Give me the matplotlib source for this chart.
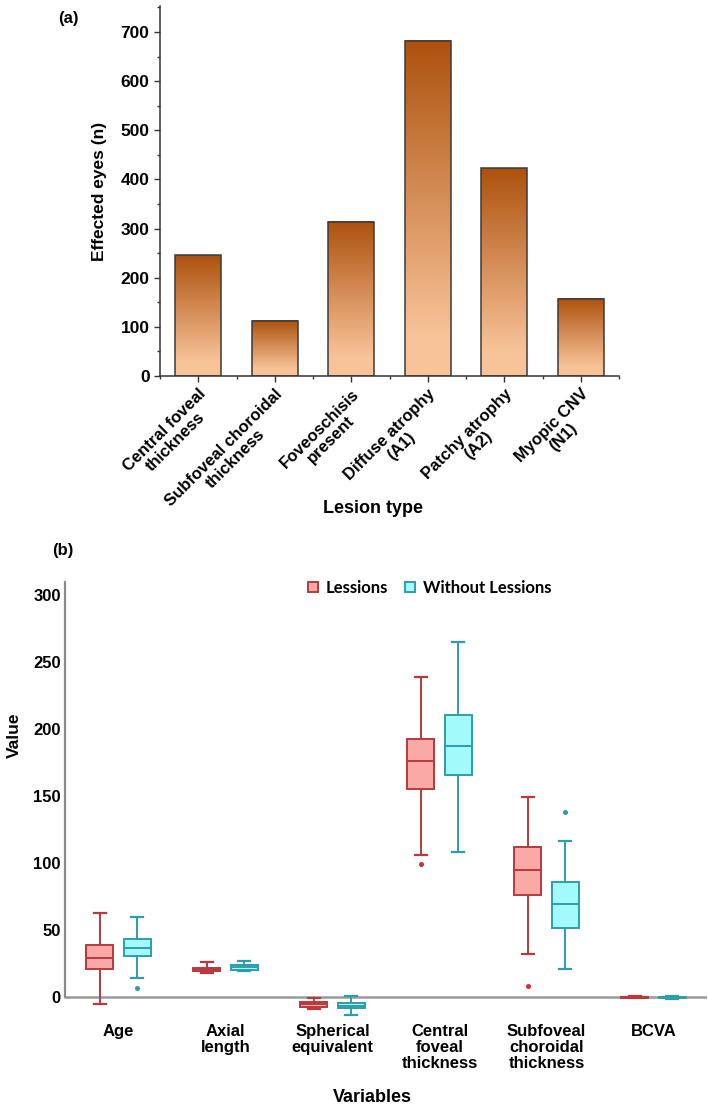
import matplotlib
matplotlib.use("Agg")
import matplotlib.pyplot as plt
import numpy as np
from matplotlib.colors import LinearSegmentedColormap
from matplotlib.lines import Line2D
from matplotlib.ticker import MultipleLocator

plt.rcParams["font.family"] = ["Liberation Sans", "DejaVu Sans"]
plt.rcParams["font.weight"] = "bold"

# ---- panel (a) data ----
lesion_types = [
    "Central foveal\nthickness",
    "Subfoveal choroidal\nthickness",
    "Foveoschisis\npresent",
    "Diffuse atrophy\n(A1)",
    "Patchy atrophy\n(A2)",
    "Myopic CNV\n(N1)",
]
affected_eyes = [246, 112, 314, 682, 423, 157]

# ---- panel (b) data (box statistics) ----
variables = [
    "Age",
    "Axial\nlength",
    "Spherical\nequivalent",
    "Central\nfoveal\nthickness",
    "Subfoveal\nchoroidal\nthickness",
    "BCVA",
]
les_whislo = [-5.2, 17.9, -9.0, 106.0, 32.1, -0.8]
les_q1 = [20.9, 19.4, -7.2, 155.0, 76.1, -0.5]
les_med = [29.1, 20.5, -5.2, 176.1, 94.5, 0.0]
les_q3 = [38.8, 21.6, -3.5, 192.5, 111.7, 0.4]
les_whishi = [62.9, 26.1, -0.8, 238.8, 149.5, 0.8]
les_fliers = [[], [], [], [99.0], [8.0], []]

wo_whislo = [14.4, 19.4, -13.4, 108.4, 20.9, -1.5]
wo_q1 = [30.6, 20.1, -8.4, 165.4, 51.7, -0.6]
wo_med = [36.6, 22.4, -6.5, 187.3, 69.6, -0.2]
wo_q3 = [43.3, 23.9, -4.7, 210.4, 85.6, 0.3]
wo_whishi = [59.9, 27.1, 0.7, 264.9, 116.4, 0.6]
wo_fliers = [[6.7], [], [], [], [138.3], []]

W, H = 708, 1111
fig = plt.figure(figsize=(W / 100, H / 100), dpi=100)

# ================= panel (a) =================
ax1 = fig.add_axes([160 / W, 1 - 376 / H, (619 - 160) / W, (376 - 6) / H])
x = np.arange(len(lesion_types))
bar_w = 0.6
grad_cmap = LinearSegmentedColormap.from_list("brown", ["#F8C398", "#AD520E"])
bars = ax1.bar(x, affected_eyes, width=bar_w, facecolor="none",
               edgecolor="#3a3a3a", linewidth=1.1, zorder=3)
ramp = np.linspace(0, 1, 256)
ramp = np.clip((ramp - 0.12) / 0.88, 0, 1)[:, None]
for b in bars:
    x0, y0 = b.get_x(), b.get_y()
    ax1.imshow(ramp, extent=[x0, x0 + b.get_width(), y0, y0 + b.get_height()],
               origin="lower", aspect="auto", cmap=grad_cmap, zorder=2)

ax1.set_xlim(-0.5, len(lesion_types) - 0.5)
ax1.set_ylim(0, 753)
ax1.spines["top"].set_visible(False)
ax1.spines["right"].set_visible(False)
for s in ("left", "bottom"):
    ax1.spines[s].set_color("#333333")
    ax1.spines[s].set_linewidth(1.1)
ax1.yaxis.set_major_locator(MultipleLocator(100))
ax1.yaxis.set_minor_locator(MultipleLocator(50))
ax1.set_xticks(x)
ax1.set_xticks(np.arange(-0.5, len(lesion_types)), minor=True)
ax1.tick_params(axis="both", which="major", length=4, width=1, color="#333333",
                labelsize=12.5)
ax1.tick_params(axis="both", which="minor", length=2.5, width=1, color="#333333")
ax1.set_xticklabels(lesion_types, rotation=45, ha="right", va="top",
                    rotation_mode="anchor", multialignment="center",
                    fontsize=12, fontweight="bold", linespacing=1.05)
for lab in ax1.get_yticklabels():
    lab.set_fontweight("bold")
ax1.set_ylabel("Effected eyes (n)", fontsize=12.5, fontweight="bold")
ax1.yaxis.set_label_coords((107 - 160) / 459, 0.5)
ax1.set_xlabel("Lesion type", fontsize=13, fontweight="bold")
ax1.xaxis.set_label_coords((373 - 160) / 459, (376 - 500) / 370)
fig.text(68 / W, 1 - 18 / H, "(a)", fontsize=12, fontweight="bold",
         ha="center", va="center")

# ================= panel (b) =================
y_bot = -20
ax2 = fig.add_axes([65 / W, 1 - 1024 / H, (707 - 65) / W, (1024 - 582) / H])
pos = np.arange(len(variables))
off = 0.175
box_w = 0.25

def make_stats(lo, q1, med, q3, hi, fl):
    return [dict(whislo=a, q1=b, med=c, q3=d, whishi=e, fliers=f)
            for a, b, c, d, e, f in zip(lo, q1, med, q3, hi, fl)]

groups = [
    (make_stats(les_whislo, les_q1, les_med, les_q3, les_whishi, les_fliers),
     -off, "#FBA9A6", "#B73A3C"),
    (make_stats(wo_whislo, wo_q1, wo_med, wo_q3, wo_whishi, wo_fliers),
     off, "#A2FAFA", "#2E9DAA"),
]
for stats, dx, fc, ec in groups:
    ax2.bxp(stats, positions=pos + dx, widths=box_w, capwidths=0.11,
            patch_artist=True, manage_ticks=False,
            boxprops=dict(facecolor=fc, edgecolor=ec, linewidth=1.4),
            medianprops=dict(color=ec, linewidth=1.4),
            whiskerprops=dict(color=ec, linewidth=1.4),
            capprops=dict(color=ec, linewidth=1.6),
            flierprops=dict(marker="o", markersize=2.6, markerfacecolor=ec,
                            markeredgecolor=ec))

ax2.axhline(0, color="#9a9a9a", linewidth=1.8, zorder=0)
ax2.set_xlim(-0.5, len(variables) - 0.5)
ax2.set_ylim(y_bot, 309.7)
ax2.spines["top"].set_visible(False)
ax2.spines["right"].set_visible(False)
ax2.spines["bottom"].set_visible(False)
ax2.spines["left"].set_color("#8a8a8a")
ax2.spines["left"].set_linewidth(1.6)
ax2.spines["left"].set_bounds(0, 309.7)
ax2.set_yticks([0, 50, 100, 150, 200, 250, 300])
ax2.set_xticks(pos)
ax2.set_xticklabels(variables, fontsize=12, fontweight="bold",
                    multialignment="center", va="top", linespacing=1.1)
ax2.tick_params(axis="both", length=0, labelsize=12)
ax2.tick_params(axis="x", pad=0)
ax2.tick_params(axis="y", pad=3)
for lab in ax2.get_yticklabels():
    lab.set_fontweight("bold")
ax2.set_ylabel("Value", fontsize=12.5, fontweight="bold")
ax2.yaxis.set_label_coords((22 - 65) / 642, (1024 - 735) / 442)
ax2.set_xlabel("Variables", fontsize=13, fontweight="bold")
ax2.xaxis.set_label_coords((372 - 65) / 642, (1024 - 1089) / 442)

handles = [
    Line2D([], [], linestyle="none", marker="s", markersize=7,
           markerfacecolor="#FBA9A6", markeredgecolor="#B73A3C",
           markeredgewidth=1.4, label="Lessions"),
    Line2D([], [], linestyle="none", marker="s", markersize=7,
           markerfacecolor="#A2FAFA", markeredgecolor="#2E9DAA",
           markeredgewidth=1.4, label="Without Lessions"),
]
ax2.legend(handles=handles, loc="center", ncol=2, frameon=False,
           bbox_to_anchor=((429 - 65) / 642, (1024 - 588) / 442),
           handletextpad=0.4, columnspacing=0.9, handlelength=0.8,
           prop=dict(family="Lato", weight="bold", size=12))
fig.text(63 / W, 1 - 551 / H, "(b)", fontsize=12, fontweight="bold",
         ha="center", va="center")

fig.savefig("out.png", dpi=100)
